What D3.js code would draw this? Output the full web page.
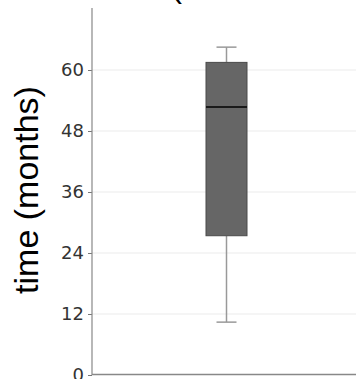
<!DOCTYPE html>
<html>
<head>
<meta charset="utf-8">
<script src="https://cdn.jsdelivr.net/npm/d3@7"></script>
<style>
  body { margin: 0; background: #fff; }
  svg { display: block; }
</style>
</head>
<body>
<svg id="chart" width="356" height="379"></svg>
<script>
// box statistics (months)
var categories = ["time"];
var lowWhisker = [10.4];
var q1 = [27.4];
var median = [52.7];
var q3 = [61.5];
var highWhisker = [64.5];
var yTicks = [0, 12, 24, 36, 48, 60];

var svg = d3.select("#chart");

var y = d3.scaleLinear()
  .domain([0, 72.2])
  .range([375, 8]);

var x = d3.scalePoint()
  .domain(categories)
  .range([92, 361])
  .padding(0.5);

var boxW = 41, capW = 20;

// grid
svg.append("g")
  .selectAll("line")
  .data(yTicks.slice(1))
  .enter().append("line")
  .attr("x1", 92).attr("x2", 356)
  .attr("y1", function(d) { return y(d); })
  .attr("y2", function(d) { return y(d); })
  .attr("stroke", "#ebebeb")
  .attr("stroke-width", 1.2);

// y axis
var yAxis = d3.axisLeft(y)
  .tickValues(yTicks)
  .tickSize(4)
  .tickPadding(4);

var gy = svg.append("g")
  .attr("transform", "translate(92,0)")
  .call(yAxis);
gy.select(".domain").remove();
gy.selectAll(".tick line").attr("stroke", "#777");
gy.selectAll(".tick text")
  .attr("fill", "#333")
  .style("font-family", "DejaVu Sans")
  .style("font-size", "18px");

svg.append("line")
  .attr("x1", 92).attr("x2", 92)
  .attr("y1", y(72.2)).attr("y2", y(0))
  .attr("stroke", "#888").attr("stroke-width", 1.2);

svg.append("line")
  .attr("x1", 92).attr("x2", 356)
  .attr("y1", y(0) - 0.5).attr("y2", y(0) - 0.5)
  .attr("stroke", "#888").attr("stroke-width", 1.5);

// box plot
var boxes = svg.append("g")
  .selectAll("g")
  .data(categories)
  .enter().append("g");

boxes.each(function(c, i) {
  var g = d3.select(this);
  var cx = x(c);

  g.append("line")
    .attr("x1", cx).attr("x2", cx)
    .attr("y1", y(highWhisker[i])).attr("y2", y(q3[i]))
    .attr("stroke", "#999").attr("stroke-width", 1.5);
  g.append("line")
    .attr("x1", cx).attr("x2", cx)
    .attr("y1", y(q1[i])).attr("y2", y(lowWhisker[i]))
    .attr("stroke", "#999").attr("stroke-width", 1.5);

  [highWhisker[i], lowWhisker[i]].forEach(function(v) {
    g.append("line")
      .attr("x1", cx - capW / 2).attr("x2", cx + capW / 2)
      .attr("y1", y(v)).attr("y2", y(v))
      .attr("stroke", "#999").attr("stroke-width", 1.5);
  });

  g.append("rect")
    .attr("x", cx - boxW / 2)
    .attr("y", y(q3[i]))
    .attr("width", boxW)
    .attr("height", y(q1[i]) - y(q3[i]))
    .attr("fill", "#666")
    .attr("stroke", "#4a4a4a")
    .attr("stroke-width", 1);

  g.append("line")
    .attr("x1", cx - boxW / 2).attr("x2", cx + boxW / 2)
    .attr("y1", y(median[i])).attr("y2", y(median[i]))
    .attr("stroke", "#1a1a1a").attr("stroke-width", 2);
});

// y label
svg.append("text")
  .attr("transform", "translate(38," + 190 + ") rotate(-90)")
  .attr("text-anchor", "middle")
  .style("font-family", "Liberation Sans, Arial, sans-serif")
  .style("font-size", "34px")
  .attr("fill", "#000")
  .text("time (months)");

// title, cut off at the top edge
svg.append("text")
  .attr("x", 171).attr("y", -3)
  .style("font-family", "Liberation Sans, Arial, sans-serif")
  .style("font-size", "33px")
  .attr("fill", "#000")
  .text("(");
</script>
</body>
</html>
